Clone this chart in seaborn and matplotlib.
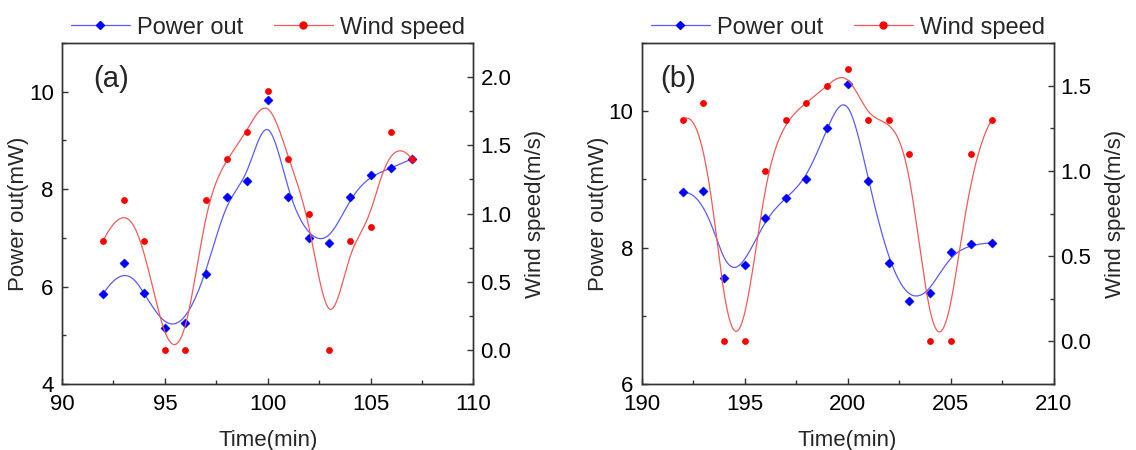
import numpy as np
import matplotlib.pyplot as plt
from matplotlib.lines import Line2D
from matplotlib.ticker import MultipleLocator
import seaborn as sns

# ========== DATOS ==========
tiempo_a = list(range(92, 108))
potencia_a = [5.85, 6.49, 5.87, 5.15, 5.26, 6.25, 7.83, 8.17, 9.83, 7.83, 7.00, 6.90, 7.83, 8.30, 8.43, 8.62]
viento_a = [0.8, 1.1, 0.8, 0.0, 0.0, 1.1, 1.4, 1.6, 1.9, 1.4, 1.0, 0.0, 0.8, 0.9, 1.6, 1.4]

tiempo_b = list(range(192, 208))
potencia_b = [8.81, 8.83, 7.56, 7.75, 8.43, 8.73, 9.00, 9.75, 10.40, 8.98, 7.77, 7.21, 7.34, 7.93, 8.05, 8.07]
viento_b = [1.3, 1.4, 0.0, 0.0, 1.0, 1.3, 1.4, 1.5, 1.6, 1.3, 1.3, 1.1, 0.0, 0.0, 1.1, 1.3]

etiquetas_panel = ["(a)", "(b)"]
nombre_series = ["Power out", "Wind speed"]
etiqueta_x = "Time(min)"
etiqueta_izq = "Power out(mW)"
etiqueta_der = "Wind speed(m/s)"

AZUL = "#0000ff"
ROJO = "#ff0000"
AZUL_LINEA = "#5a5aff"
ROJO_LINEA = "#f25a5a"
GRIS = "#333333"


# ========== FUNCIONES AUXILIARES ==========
def b_spline(px, py, num=400, k=3):
    # B-spline cúbica "clamped" con los datos como puntos de control (como Origin)
    px = np.asarray(px, float)
    py = np.asarray(py, float)
    n = len(px)
    t = np.concatenate([np.zeros(k), np.arange(n - k + 1), np.full(k, n - k)]).astype(float)
    u = np.linspace(0, n - k, num)
    u[-1] -= 1e-9
    B = ((t[:-1] <= u[:, None]) & (u[:, None] < t[1:])).astype(float)
    for d in range(1, k + 1):
        m = len(t) - 1 - d
        Bn = np.zeros((num, m))
        for i in range(m):
            a = t[i + d] - t[i]
            b = t[i + d + 1] - t[i + 1]
            if a > 0:
                Bn[:, i] += (u - t[i]) / a * B[:, i]
            if b > 0:
                Bn[:, i] += (t[i + d + 1] - u) / b * B[:, i + 1]
        B = Bn
    return B @ px, B @ py


def dibujar_panel(ax, tiempo, potencia, viento, letra, xlim, ylim_izq, ylim_der, x_letra):
    ax2 = ax.twinx()

    xs, ys = b_spline(tiempo, potencia)
    sns.lineplot(x=xs, y=ys, ax=ax, color=AZUL_LINEA, lw=0.9, sort=False, estimator=None)
    sns.scatterplot(x=tiempo, y=potencia, ax=ax, marker="D", color=AZUL, s=22,
                    edgecolor=AZUL, linewidth=0.3, zorder=3)

    xs, ys = b_spline(tiempo, viento)
    sns.lineplot(x=xs, y=ys, ax=ax2, color=ROJO_LINEA, lw=0.9, sort=False, estimator=None)
    sns.scatterplot(x=tiempo, y=viento, ax=ax2, marker="o", color=ROJO, s=24,
                    linewidth=0, zorder=3)

    ax.set_xlim(*xlim)
    ax.set_ylim(*ylim_izq)
    ax2.set_ylim(*ylim_der)

    ax.xaxis.set_major_locator(MultipleLocator(5))
    ax.xaxis.set_minor_locator(MultipleLocator(2.5))
    ax.yaxis.set_major_locator(MultipleLocator(2))
    ax.yaxis.set_minor_locator(MultipleLocator(1))
    ax2.yaxis.set_major_locator(MultipleLocator(0.5))
    ax2.yaxis.set_minor_locator(MultipleLocator(0.25))
    ax2.yaxis.set_major_formatter(plt.FormatStrFormatter("%.1f"))

    for a in (ax, ax2):
        a.tick_params(which="both", direction="in", colors=GRIS, labelcolor="black",
                      labelsize=16, top=False)
        a.tick_params(which="major", length=4.5, width=1, pad=5)
        a.tick_params(which="minor", length=2.8, width=1)
        for s in a.spines.values():
            s.set_color(GRIS)
            s.set_linewidth(1.0)
            s.set_visible(True)
    ax.tick_params(axis="y", right=False, pad=6)
    ax.tick_params(axis="x", pad=7)
    ax2.tick_params(axis="y", left=False)

    ax.set_xlabel(etiqueta_x, fontsize=16, labelpad=11)
    ax.set_ylabel(etiqueta_izq, fontsize=16, labelpad=0)
    ax2.set_ylabel(etiqueta_der, fontsize=16, labelpad=9.5)

    ax.text(x_letra, 0.895, letra, transform=ax.transAxes, fontsize=21, va="center", ha="left")

    manejadores = [
        Line2D([], [], color=AZUL_LINEA, lw=0.9, marker="D", markersize=4.5,
               markerfacecolor=AZUL, markeredgecolor=AZUL),
        Line2D([], [], color=ROJO_LINEA, lw=0.9, marker="o", markersize=5,
               markerfacecolor=ROJO, markeredgecolor=ROJO),
    ]
    ax2.legend(manejadores, nombre_series, loc="lower center", bbox_to_anchor=(0.5, 0.985),
               ncol=2, frameon=False, fontsize=17, handlelength=2.5, handletextpad=0.3,
               columnspacing=1.3, borderaxespad=0.0)


# ========== FIGURA ==========
sns.set_style("ticks")
plt.rcParams["font.family"] = ["Liberation Sans", "DejaVu Sans"]

fig = plt.figure(figsize=(11.36, 4.5), dpi=100)
ax_a = fig.add_axes([0.0546, 0.1467, 0.3622, 0.7577])
ax_b = fig.add_axes([0.5649, 0.1467, 0.3625, 0.7577])

dibujar_panel(ax_a, tiempo_a, potencia_a, viento_a, etiquetas_panel[0],
              (90, 110), (4, 11), (-0.25, 2.25), 0.075)
dibujar_panel(ax_b, tiempo_b, potencia_b, viento_b, etiquetas_panel[1],
              (190, 210), (6, 11), (-0.25, 1.75), 0.045)

fig.savefig("out.png", dpi=100)
plt.close()
